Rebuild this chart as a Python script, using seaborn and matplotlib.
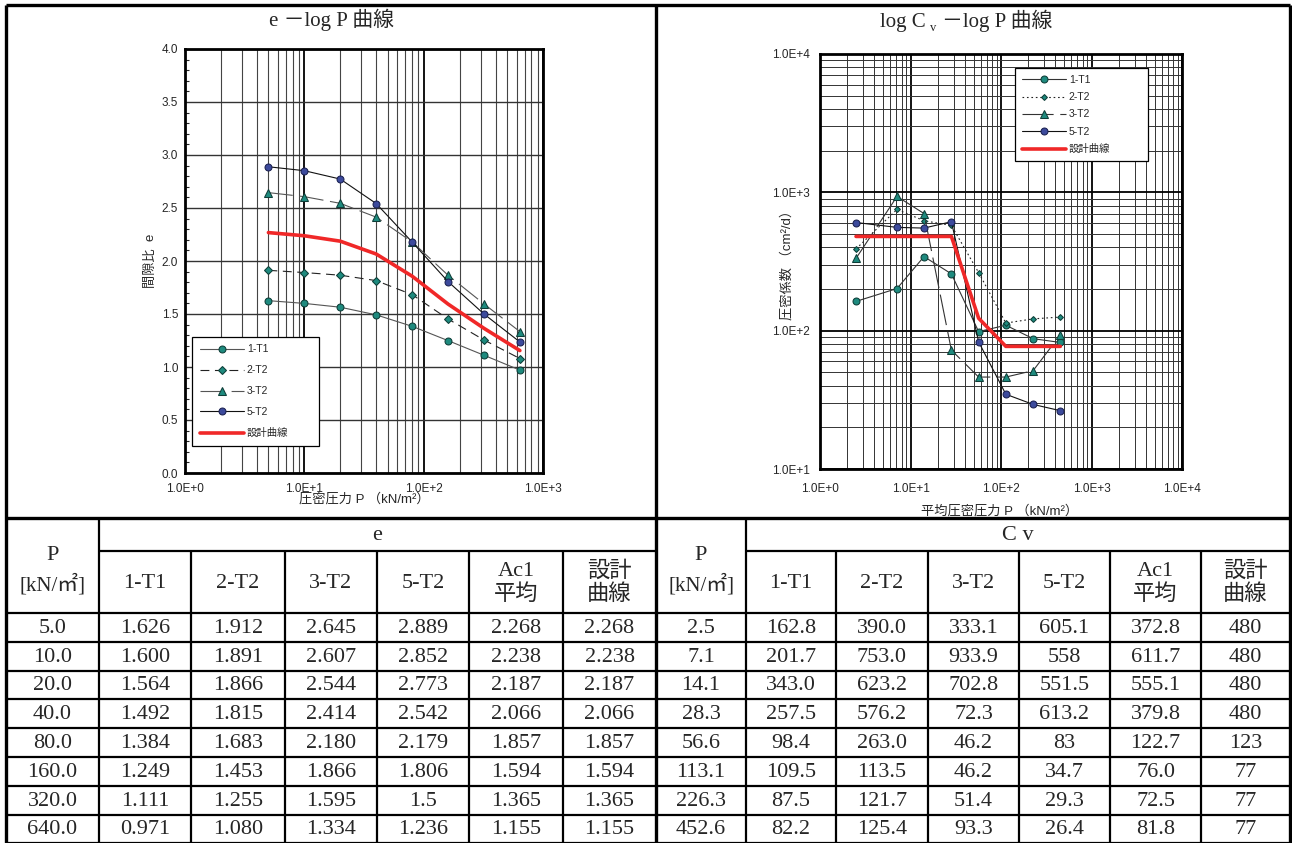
import numpy as np
import pandas as pd
import matplotlib
matplotlib.use('Agg')
import matplotlib.pyplot as plt
from matplotlib.ticker import FixedLocator, FuncFormatter, LogLocator, MultipleLocator, NullFormatter
import seaborn as sns

# ---- data ----
e_pressure = [5.0, 10.0, 20.0, 40.0, 80.0, 160.0, 320.0, 640.0]
e_1T1 = [1.626, 1.600, 1.564, 1.492, 1.384, 1.249, 1.111, 0.971]
e_2T2 = [1.912, 1.891, 1.866, 1.815, 1.683, 1.453, 1.255, 1.080]
e_3T2 = [2.645, 2.607, 2.544, 2.414, 2.180, 1.866, 1.595, 1.334]
e_5T2 = [2.889, 2.852, 2.773, 2.542, 2.179, 1.806, 1.5, 1.236]
e_ac1 = [2.268, 2.238, 2.187, 2.066, 1.857, 1.594, 1.365, 1.155]
e_design = [2.268, 2.238, 2.187, 2.066, 1.857, 1.594, 1.365, 1.155]

cv_pressure = [2.5, 7.1, 14.1, 28.3, 56.6, 113.1, 226.3, 452.6]
cv_1T1 = [162.8, 201.7, 343.0, 257.5, 98.4, 109.5, 87.5, 82.2]
cv_2T2 = [390.0, 753.0, 623.2, 576.2, 263.0, 113.5, 121.7, 125.4]
cv_3T2 = [333.1, 933.9, 702.8, 72.3, 46.2, 46.2, 51.4, 93.3]
cv_5T2 = [605.1, 558, 551.5, 613.2, 83, 34.7, 29.3, 26.4]
cv_ac1 = [372.8, 611.7, 555.1, 379.8, 122.7, 76.0, 72.5, 81.8]
cv_design = [480, 480, 480, 480, 123, 77, 77, 77]

sample_names = ['1-T1', '2-T2', '3-T2', '5-T2']
design_name = '設計曲線'
col_headers = ['1-T1', '2-T2', '3-T2', '5-T2', 'Ac1\n平均', '設計\n曲線']
e_formats = ['.1f', '.3f', '.3f', '.3f', 'g', '.3f', '.3f']
cv_formats = ['.1f', '.1f', '.1f', '.1f', 'g', '.1f', 'g']

# ---- style ----
sns.set_style('white')
JP = ['Liberation Sans', 'Noto Sans CJK JP']
SERIF = ['Liberation Serif', 'Noto Sans CJK JP']
plt.rcParams['font.family'] = JP

TEAL = '#1e8a7e'
BLUE = '#3c4a9c'
RED = '#f02828'
TABLE_FS = 16

W, H = 1292, 843
fig = plt.figure(figsize=(W / 100, H / 100), dpi=100)
bg = fig.add_axes([0, 0, 1, 1])
bg.set_xlim(0, W)
bg.set_ylim(H, 0)
bg.axis('off')


def px_axes(x0, y0, x1, y1):
    return fig.add_axes([x0 / W, 1 - y1 / H, (x1 - x0) / W, (y1 - y0) / H])


ax_e = px_axes(185, 49, 543, 473)
ax_cv = px_axes(820, 54, 1182, 469)

exp_fmt = FuncFormatter(lambda v, p: f"1.0E+{int(round(np.log10(v)))}")

# ---- e - log P ----
ax_e.set_xscale('log')
e_styles = [
    dict(color='#555555', linewidth=0.8, marker='o', markersize=5, markerfacecolor=TEAL, markeredgecolor='#0d3d37'),
    dict(color='#222222', linewidth=0.8, linestyle=(0, (8, 5)), marker='D', markersize=4, markerfacecolor=TEAL, markeredgecolor='#0d3d37'),
    dict(color='#555555', linewidth=0.8, linestyle=(0, (22, 6)), marker='^', markersize=6, markerfacecolor=TEAL, markeredgecolor='#0d3d37'),
    dict(color='#111111', linewidth=0.8, marker='o', markersize=5, markerfacecolor=BLUE, markeredgecolor='#1a2050'),
]
for name, vals, st in zip(sample_names, [e_1T1, e_2T2, e_3T2, e_5T2], e_styles):
    sns.lineplot(x=e_pressure, y=vals, ax=ax_e, label=name, sort=False, estimator=None, zorder=3, **st)
sns.lineplot(x=e_pressure, y=e_design, ax=ax_e, label=design_name, sort=False, estimator=None,
             color=RED, linewidth=2.6, zorder=4)

ax_e.set_xlim(1, 1000)
ax_e.set_ylim(0, 4)
ax_e.xaxis.set_major_locator(FixedLocator([1, 10, 100, 1000]))
ax_e.xaxis.set_major_formatter(exp_fmt)
ax_e.xaxis.set_minor_locator(LogLocator(base=10, subs=np.arange(2, 10)))
ax_e.xaxis.set_minor_formatter(NullFormatter())
ax_e.yaxis.set_major_locator(MultipleLocator(0.5))
ax_e.yaxis.set_major_formatter(FuncFormatter(lambda v, p: f"{v:.1f}"))
ax_e.yaxis.set_minor_locator(MultipleLocator(0.1))
ax_e.set_axisbelow(True)
ax_e.grid(which='major', axis='x', color='black', linewidth=1.3)
ax_e.grid(which='minor', axis='x', color='#444444', linewidth=0.8)
ax_e.grid(which='major', axis='y', color='#333333', linewidth=1.0)
ax_e.tick_params(axis='both', which='major', length=0, labelsize=8.5, pad=5)
ax_e.tick_params(axis='x', which='major', pad=7)
ax_e.tick_params(axis='y', which='minor', direction='in', length=3, width=0.8, left=True)
ax_e.tick_params(axis='x', which='minor', length=0)
ax_e.set_xlabel('圧密圧力 P （kN/m²）', fontsize=9.5, va='center')
ax_e.xaxis.set_label_coords(0.5, -0.063)
ax_e.set_ylabel('間隙比  e', fontsize=9.5, va='center')
ax_e.yaxis.set_label_coords(-0.095, 0.5)
leg = ax_e.legend(loc='lower left', bbox_to_anchor=(0.0196, 0.0637, 0.355, 0.2), mode='expand',
                  borderaxespad=0, frameon=True, fancybox=False, edgecolor='black', framealpha=1,
                  prop={'family': JP, 'size': 7.5}, handlelength=4.2, labelspacing=1.05,
                  borderpad=0.75, handletextpad=0.3)
leg.get_frame().set_linewidth(0.9)

# ---- log Cv - log P ----
ax_cv.set_xscale('log')
ax_cv.set_yscale('log')
cv_styles = [
    dict(color='#333333', linewidth=0.8, marker='o', markersize=5, markerfacecolor=TEAL, markeredgecolor='#0d3d37'),
    dict(color='#222222', linewidth=0.8, linestyle=(0, (1.5, 2.5)), marker='D', markersize=3, markerfacecolor=TEAL, markeredgecolor='#0d3d37'),
    dict(color='#333333', linewidth=0.8, linestyle=(0, (28, 6)), marker='^', markersize=6, markerfacecolor=TEAL, markeredgecolor='#0d3d37'),
    dict(color='#111111', linewidth=0.8, marker='o', markersize=5, markerfacecolor=BLUE, markeredgecolor='#1a2050'),
]
for name, vals, st in zip(sample_names, [cv_1T1, cv_2T2, cv_3T2, cv_5T2], cv_styles):
    sns.lineplot(x=cv_pressure, y=vals, ax=ax_cv, label=name, sort=False, estimator=None, zorder=3, **st)
sns.lineplot(x=cv_pressure, y=cv_design, ax=ax_cv, label=design_name, sort=False, estimator=None,
             color=RED, linewidth=2.6, zorder=4)

ax_cv.set_xlim(1, 10000)
ax_cv.set_ylim(10, 10000)
for axis in (ax_cv.xaxis, ax_cv.yaxis):
    axis.set_major_formatter(exp_fmt)
    axis.set_minor_locator(LogLocator(base=10, subs=np.arange(2, 10)))
    axis.set_minor_formatter(NullFormatter())
ax_cv.xaxis.set_major_locator(FixedLocator([1, 10, 100, 1000, 10000]))
ax_cv.yaxis.set_major_locator(FixedLocator([10, 100, 1000, 10000]))
ax_cv.set_axisbelow(True)
ax_cv.grid(which='major', color='black', linewidth=1.3)
ax_cv.grid(which='minor', color='#333333', linewidth=0.7)
ax_cv.tick_params(axis='both', which='both', length=0, labelsize=8.5, pad=7)
ax_cv.tick_params(axis='x', which='major', pad=10)
ax_cv.set_xlabel('平均圧密圧力 P （kN/m²）', fontsize=9.5, va='center')
ax_cv.xaxis.set_label_coords(0.497, -0.103)
ax_cv.set_ylabel('圧密係数 （cm²/d）', fontsize=9.5, va='center')
ax_cv.yaxis.set_label_coords(-0.09, 0.5)
leg = ax_cv.legend(loc='upper left', bbox_to_anchor=(0.539, 0.74, 0.367, 0.226), mode='expand',
                   borderaxespad=0, frameon=True, fancybox=False, edgecolor='black', framealpha=1,
                   prop={'family': JP, 'size': 7.5}, handlelength=4.2, labelspacing=0.7,
                   borderpad=0.65, handletextpad=0.3)
leg.get_frame().set_linewidth(0.9)

for ax in (ax_e, ax_cv):
    for sp in ax.spines.values():
        sp.set_visible(True)
        sp.set_color('black')
        sp.set_linewidth(2.0)

# ---- chart titles ----
bg.text(332, 20, 'e －log P 曲線', ha='center', va='center', fontsize=15, family=SERIF)
t1 = bg.text(880, 27, 'log C', ha='left', va='baseline', fontsize=15, family=SERIF)
t2 = bg.annotate('v', xy=(1, 31), xycoords=(t1, 'data'), xytext=(3, 0), textcoords='offset points',
                 ha='left', va='baseline', fontsize=9, family=SERIF)
bg.annotate('－log P 曲線', xy=(1, 27), xycoords=(t2, 'data'), xytext=(4, 0), textcoords='offset points',
            ha='left', va='baseline', fontsize=15, family=SERIF)

# ---- tables ----
table_top, split_y, head_bottom, row_h = 518, 551, 613, 28.8
left_cols = [6, 99, 191, 285, 377, 469, 563, 656]
right_cols = [656, 746, 836, 928, 1019, 1110, 1201, 1290]

bg.hlines([5, table_top], 6, 1290, color='black', linewidth=2.4)
bg.vlines([6, 656, 1290], 5, H, color='black', linewidth=2.4)

e_table = pd.DataFrame({'P': e_pressure, '1-T1': e_1T1, '2-T2': e_2T2, '3-T2': e_3T2,
                        '5-T2': e_5T2, 'Ac1': e_ac1, 'design': e_design})
cv_table = pd.DataFrame({'P': cv_pressure, '1-T1': cv_1T1, '2-T2': cv_2T2, '3-T2': cv_3T2,
                         '5-T2': cv_5T2, 'Ac1': cv_ac1, 'design': cv_design})


def draw_table(cols, group_title, table, formats):
    n = len(table)
    row_lines = [head_bottom + i * row_h for i in range(n + 1)]
    bg.hlines(split_y, cols[1], cols[-1], color='black', linewidth=1.6)
    bg.hlines(row_lines, cols[0], cols[-1], color='black', linewidth=1.6)
    bg.vlines(cols[1], table_top, H, color='black', linewidth=1.6)
    bg.vlines(cols[2:-1], split_y, H, color='black', linewidth=1.6)
    centers = [(a + b) / 2 for a, b in zip(cols[:-1], cols[1:])]
    bg.text((cols[1] + cols[-1]) / 2, 535, group_title, ha='center', va='center', fontsize=TABLE_FS, family=SERIF)
    bg.text(centers[0], 556, 'P', ha='center', va='center', fontsize=TABLE_FS, family=SERIF)
    bg.text(centers[0], 585, '[kN/㎡]', ha='center', va='center', fontsize=TABLE_FS - 1, family=SERIF)
    for cx, head in zip(centers[1:], col_headers):
        bg.text(cx, 583, head, ha='center', va='center', fontsize=TABLE_FS, family=SERIF, linespacing=1.2)
    for i, (_, row) in enumerate(table.iterrows()):
        cy = head_bottom + (i + 0.5) * row_h
        for cx, val, fmt in zip(centers, row.values, formats):
            bg.text(cx, cy + 1, format(val, fmt), ha='center', va='center', fontsize=TABLE_FS, family=SERIF)


draw_table(left_cols, 'e', e_table, e_formats)
draw_table(right_cols, 'C v', cv_table, cv_formats)

fig.savefig('out.png', dpi=100)
